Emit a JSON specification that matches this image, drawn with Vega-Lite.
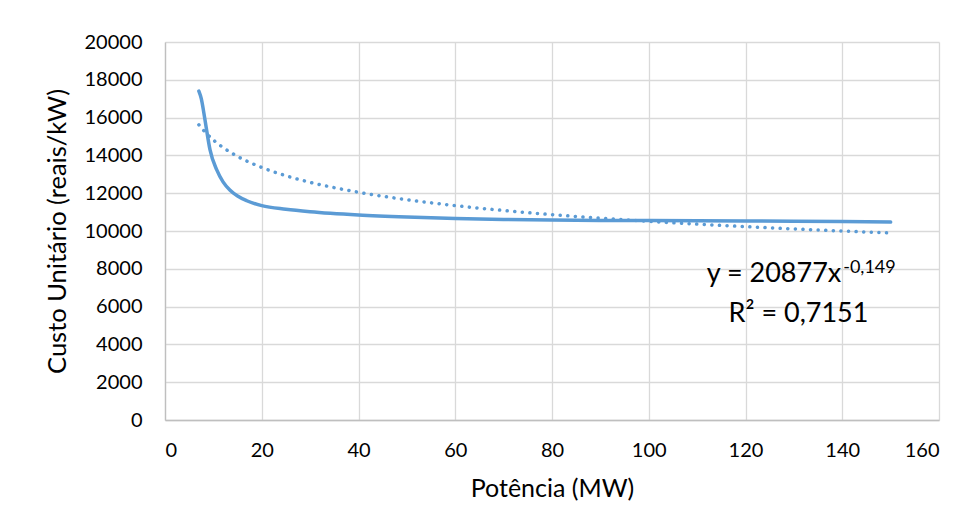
{
  "$schema": "https://vega.github.io/schema/vega-lite/v6.json",
  "width": 774,
  "height": 378,
  "autosize": "none",
  "padding": {"left": 165, "top": 42, "right": 36, "bottom": 109},
  "background": "white",
  "config": {
    "font": "Lato",
    "view": {"stroke": null},
    "axis": {
      "gridColor": "#d9d9d9",
      "gridWidth": 1.3,
      "domainColor": "#bfbfbf",
      "domainWidth": 1.3,
      "ticks": false,
      "labelFont": "Lato",
      "labelFontSize": 20,
      "labelColor": "#000000",
      "labelOverlap": false,
      "titleFont": "Lato",
      "titleFontWeight": "normal",
      "titleColor": "#000000"
    }
  },
  "datasets": {
    "curve": [
      {"x": 7.0, "y": 17400},
      {"x": 7.5, "y": 17000},
      {"x": 8.0, "y": 16300},
      {"x": 8.5, "y": 15500},
      {"x": 9.3, "y": 14300},
      {"x": 10.7, "y": 13230},
      {"x": 12.0, "y": 12600},
      {"x": 13.4, "y": 12170},
      {"x": 15.0, "y": 11850},
      {"x": 16.9, "y": 11600},
      {"x": 20, "y": 11340},
      {"x": 25, "y": 11150},
      {"x": 30, "y": 11020},
      {"x": 40, "y": 10850},
      {"x": 50, "y": 10740},
      {"x": 60, "y": 10660},
      {"x": 70, "y": 10610},
      {"x": 80, "y": 10580},
      {"x": 90, "y": 10560},
      {"x": 100, "y": 10550},
      {"x": 110, "y": 10540},
      {"x": 120, "y": 10530},
      {"x": 130, "y": 10520},
      {"x": 140, "y": 10500},
      {"x": 150, "y": 10470}
    ],
    "trend": [
      {"x": 7, "y": 15622},
      {"x": 8, "y": 15315},
      {"x": 10, "y": 14815},
      {"x": 12, "y": 14418},
      {"x": 15, "y": 13946},
      {"x": 20, "y": 13361},
      {"x": 25, "y": 12923},
      {"x": 30, "y": 12577},
      {"x": 40, "y": 12050},
      {"x": 50, "y": 11656},
      {"x": 60, "y": 11343},
      {"x": 70, "y": 11086},
      {"x": 80, "y": 10867},
      {"x": 90, "y": 10678},
      {"x": 100, "y": 10512},
      {"x": 110, "y": 10364},
      {"x": 120, "y": 10230},
      {"x": 130, "y": 10109},
      {"x": 140, "y": 9998},
      {"x": 150, "y": 9896}
    ],
    "labels": [
      {"x": 112, "y": 7300, "t": "y = 20877x", "kind": "main"},
      {"x": 140.2, "y": 7780, "t": "-0,149", "kind": "sup"},
      {"x": 116.5, "y": 5185, "t": "R² = 0,7151", "kind": "main"}
    ]
  },
  "encoding": {
    "x": {"field": "x", "type": "quantitative", "scale": {"domain": [0, 160], "nice": false}, "axis": {"values": [0, 20, 40, 60, 80, 100, 120, 140, 160], "format": "d", "labelOverlap": false, "title": "Potência (MW)", "titleFontSize": 25, "labelPadding": 20, "titlePadding": 16}},
    "y": {"field": "y", "type": "quantitative", "scale": {"domain": [0, 20000], "nice": false}, "axis": {"values": [0, 2000, 4000, 6000, 8000, 10000, 12000, 14000, 16000, 18000, 20000], "format": "d", "labelOverlap": false, "title": "Custo Unitário (reais/kW)", "titleFontSize": 25.5, "labelPadding": 23, "titlePadding": 14}}
  },
  "layer": [
    {
      "data": {"name": "trend"},
      "mark": {"type": "line", "interpolate": "monotone", "color": "#5b9bd5", "strokeWidth": 3.5, "strokeDash": [0.1, 7.5], "strokeCap": "round"}
    },
    {
      "data": {"name": "curve"},
      "mark": {"type": "line", "interpolate": "monotone", "color": "#5b9bd5", "strokeWidth": 3.5, "strokeCap": "round"}
    },
    {
      "data": {"name": "labels"},
      "transform": [{"filter": "datum.kind == 'main'"}],
      "mark": {"type": "text", "align": "left", "baseline": "alphabetic", "fontSize": 27, "font": "Lato", "color": "#000000"},
      "encoding": {
        "text": {"field": "t"}
      }
    },
    {
      "data": {"name": "labels"},
      "transform": [{"filter": "datum.kind == 'sup'"}],
      "mark": {"type": "text", "align": "left", "baseline": "alphabetic", "fontSize": 18, "font": "Lato", "color": "#000000"},
      "encoding": {
        "text": {"field": "t"}
      }
    }
  ]
}
